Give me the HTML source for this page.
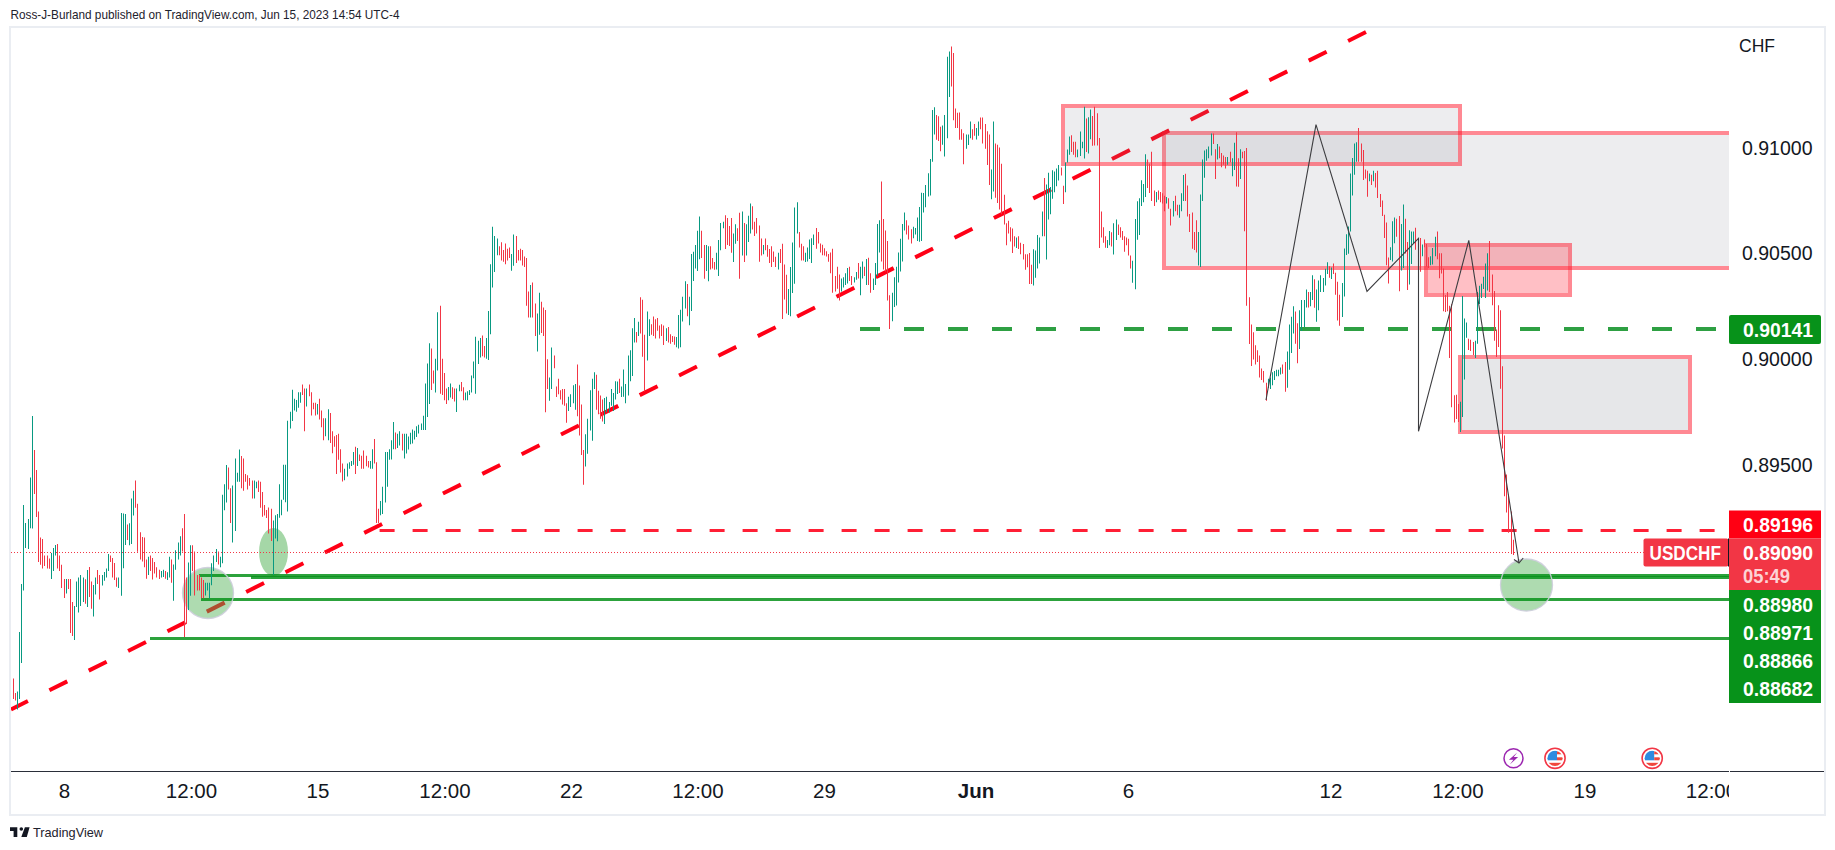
<!DOCTYPE html>
<html><head><meta charset="utf-8"><style>
html,body{margin:0;padding:0;background:#fff;}
body{width:1835px;height:850px;overflow:hidden;position:relative;font-family:"Liberation Sans", sans-serif;}
svg{position:absolute;left:0;top:0;}
</style></head><body>
<svg width="1835" height="850" viewBox="0 0 1835 850" font-family='"Liberation Sans", sans-serif'>
<text x="10.5" y="19" font-size="13" fill="#1E222D" textLength="389" lengthAdjust="spacingAndGlyphs">Ross-J-Burland published on TradingView.com, Jun 15, 2023 14:54 UTC-4</text>
<rect x="10" y="27" width="1815" height="788" fill="none" stroke="#EAEDF2" stroke-width="2"/>
<defs><clipPath id="cc"><rect x="11" y="28" width="1718" height="743"/></clipPath><clipPath id="tc"><rect x="11" y="772" width="1718" height="42"/></clipPath></defs>
<g clip-path="url(#cc)">
<path d="M11 709.5L1380 25" stroke="#FF0016" stroke-width="4" stroke-dasharray="20 24" stroke-dashoffset="1.1" fill="none"/>
<rect x="1166" y="135" width="620" height="131" fill="rgba(130,133,145,0.145)"/><rect x="1164" y="133" width="624" height="135" fill="none" stroke="rgba(255,20,40,0.5)" stroke-width="4"/><rect x="1065" y="108" width="393" height="54" fill="rgba(130,133,145,0.145)"/><rect x="1063" y="106" width="397" height="58" fill="none" stroke="rgba(255,20,40,0.5)" stroke-width="4"/><rect x="1428" y="247" width="140" height="46" fill="rgba(255,20,40,0.27)"/><rect x="1426" y="245" width="144" height="50" fill="none" stroke="rgba(255,20,40,0.5)" stroke-width="4"/><rect x="1462" y="359" width="226" height="71" fill="rgba(130,133,145,0.2)"/><rect x="1460" y="357" width="230" height="75" fill="none" stroke="rgba(255,20,40,0.5)" stroke-width="4"/>
<circle cx="208" cy="593" r="25.5" fill="rgba(76,175,80,0.45)"/>
<ellipse cx="273.5" cy="552" rx="14.5" ry="24" fill="rgba(76,175,80,0.5)"/>
<circle cx="1526.5" cy="585" r="26" fill="rgba(76,175,80,0.45)"/>
<path d="M860 329H1729" stroke="#2EA043" stroke-width="4" stroke-dasharray="20 24" fill="none"/>
<path d="M379.6 530.5H1729" stroke="#FF1F35" stroke-width="3" stroke-dasharray="15 18" fill="none"/>
<path d="M11 552.5H1729" stroke="#F23645" stroke-width="1" stroke-dasharray="1 2" fill="none"/>
<path d="M199 575.5H1729" stroke="rgba(7,146,26,0.85)" stroke-width="3" fill="none"/>
<path d="M251 577.5H1729" stroke="rgba(7,146,26,0.85)" stroke-width="3" fill="none"/>
<path d="M201 599.5H1729" stroke="rgba(7,146,26,0.85)" stroke-width="3" fill="none"/>
<path d="M150 638.5H1729" stroke="rgba(7,146,26,0.85)" stroke-width="3" fill="none"/>
<circle cx="208" cy="593" r="25.5" fill="none" stroke="rgba(205,205,220,0.9)" stroke-width="1.3"/>
<circle cx="1526.5" cy="585" r="26" fill="none" stroke="rgba(205,205,220,0.9)" stroke-width="1.3"/>
<path fill="#089981" d="M17 691.5h1v18.1h-1zM19 632h1v67h-1zM21 584h1v79h-1zM23 505h1v85.6h-1zM25 523h1v25h-1zM28 519h1v30h-1zM30 477.4h1v50.8h-1zM32 416h1v112.5h-1zM51 553h1v26h-1zM53 548h1v23h-1zM55 545h1v10.6h-1zM66 579.1h1v14.3h-1zM74 606h1v34h-1zM76 581.5h1v25.5h-1zM78 577.6h1v35.0h-1zM80 575h1v31h-1zM83 577.6h1v24.4h-1zM87 570h1v37h-1zM93 585h1v31.5h-1zM95 577.6h1v16.9h-1zM102 575h1v10.4h-1zM104 572.1h1v8.6h-1zM106 568.6h1v9.0h-1zM108 554h1v17h-1zM118 577.6h1v10.4h-1zM121 513h1v82.8h-1zM123 513.6h1v54.6h-1zM125 514h1v31h-1zM129 523.2h1v22.0h-1zM131 498.6h1v45.3h-1zM133 490.8h1v24.6h-1zM148 556.8h1v18.1h-1zM161 571.0h1v6.5h-1zM163 569.8h1v7.2h-1zM167 572.3h1v7.8h-1zM169 556.8h1v20.7h-1zM173 564.6h1v36.2h-1zM175 550.3h1v19.4h-1zM178 542.6h1v16.8h-1zM180 536.2h1v19.2h-1zM188 562.5h1v47.4h-1zM190 545.2h1v50.5h-1zM205 582.7h1v12.9h-1zM207 582.7h1v7.8h-1zM209 582.7h1v15.5h-1zM211 563.3h1v22.0h-1zM213 555.5h1v15.5h-1zM216 549.0h1v12.9h-1zM220 556.8h1v10.4h-1zM222 494.7h1v68.6h-1zM224 484.3h1v25.9h-1zM226 464.9h1v37.5h-1zM232 485.6h1v56.9h-1zM235 458.5h1v72.5h-1zM237 472.7h1v9.1h-1zM239 449.4h1v32.3h-1zM254 480.5h1v18.1h-1zM256 481.8h1v6.5h-1zM273 520.5h1v54.3h-1zM275 515.3h1v23.3h-1zM277 514.0h1v27.2h-1zM279 484.2h1v33.6h-1zM281 499.8h1v15.5h-1zM283 464.8h1v34.9h-1zM285 464.8h1v37.5h-1zM287 420.8h1v90.6h-1zM290 411.8h1v16.8h-1zM292 389.8h1v31.1h-1zM294 398.8h1v11.6h-1zM296 400.1h1v11.6h-1zM298 392.3h1v15.5h-1zM300 392.3h1v10.4h-1zM306 388.5h1v18.1h-1zM317 404.0h1v10.4h-1zM325 418.2h1v18.1h-1zM328 409.2h1v31.1h-1zM344 468.7h1v11.6h-1zM347 463.5h1v12.9h-1zM349 462.2h1v6.5h-1zM351 460.9h1v5.2h-1zM353 451.9h1v12.9h-1zM357 448.0h1v18.1h-1zM370 460.9h1v7.8h-1zM372 449.3h1v19.4h-1zM380 501.0h1v14.2h-1zM382 486.8h1v27.2h-1zM385 451.9h1v50.5h-1zM387 451.9h1v34.9h-1zM389 449.3h1v10.4h-1zM391 440.2h1v19.4h-1zM393 422.1h1v27.2h-1zM397 433.8h1v14.2h-1zM399 431.2h1v14.2h-1zM404 433.8h1v24.6h-1zM406 433.7h1v19.8h-1zM408 436.4h1v13.2h-1zM410 432.7h1v11.5h-1zM412 429.5h1v14.0h-1zM414 430.8h1v8.7h-1zM416 426.3h1v10.6h-1zM418 424.8h1v8.6h-1zM421 423.5h1v6.5h-1zM423 415.7h1v14.2h-1zM425 383.4h1v46.6h-1zM427 363.4h1v53.6h-1zM429 343.3h1v60.8h-1zM435 358.8h1v33.6h-1zM437 312.2h1v58.2h-1zM448 387.1h1v13.1h-1zM450 383.4h1v14.2h-1zM456 388.6h1v23.3h-1zM459 384.7h1v6.5h-1zM465 392.5h1v7.8h-1zM467 391.2h1v9.1h-1zM469 389.9h1v5.2h-1zM471 375.6h1v16.8h-1zM473 361.4h1v16.8h-1zM475 336.8h1v56.9h-1zM478 340.7h1v23.3h-1zM480 338.1h1v19.4h-1zM486 338.1h1v20.7h-1zM488 310.9h1v49.2h-1zM490 264.3h1v69.9h-1zM492 226.8h1v60.8h-1zM494 235.9h1v36.2h-1zM497 238.5h1v16.8h-1zM511 254.0h1v16.8h-1zM513 234.6h1v31.1h-1zM530 285.1h1v32.3h-1zM537 313.5h1v38.0h-1zM539 292.8h1v41.9h-1zM549 377.4h1v23.3h-1zM551 347.6h1v41.4h-1zM568 396.8h1v14.2h-1zM570 394.2h1v12.9h-1zM573 385.2h1v18.1h-1zM575 383.9h1v25.9h-1zM585 434.3h1v32.3h-1zM587 418.8h1v34.9h-1zM590 390.3h1v40.1h-1zM592 378.7h1v62.1h-1zM594 372.2h1v16.8h-1zM604 398.1h1v25.9h-1zM606 396.8h1v15.5h-1zM609 402.0h1v10.4h-1zM611 389.0h1v16.8h-1zM613 392.9h1v18.1h-1zM615 381.3h1v18.1h-1zM617 381.4h1v12.6h-1zM621 386.5h1v10.4h-1zM623 369.6h1v27.2h-1zM625 383.9h1v19.4h-1zM628 355.4h1v40.1h-1zM630 350.2h1v31.1h-1zM632 328.2h1v47.9h-1zM634 317.9h1v24.6h-1zM638 321.8h1v14.2h-1zM647 311.4h1v49.2h-1zM649 319.2h1v16.8h-1zM666 328.2h1v12.9h-1zM676 336.9h1v10.4h-1zM678 314.9h1v33.6h-1zM680 309.8h1v37.5h-1zM682 296.8h1v24.6h-1zM685 281.3h1v27.2h-1zM689 296.8h1v28.5h-1zM691 254.1h1v56.9h-1zM693 251.8h1v29.2h-1zM695 245.1h1v23.3h-1zM697 230.8h1v40.1h-1zM699 216.6h1v42.7h-1zM706 245.1h1v25.9h-1zM708 246.3h1v34.9h-1zM716 252.8h1v16.8h-1zM718 239.9h1v36.2h-1zM720 223.1h1v27.2h-1zM723 221.8h1v6.5h-1zM733 233.4h1v28.5h-1zM735 224.3h1v19.4h-1zM742 211.4h1v44.0h-1zM746 224.3h1v31.1h-1zM748 215.7h1v26.2h-1zM750 203.6h1v29.8h-1zM763 245.1h1v9.1h-1zM778 252.8h1v16.8h-1zM788 289.0h1v25.9h-1zM790 267.0h1v49.2h-1zM792 242.5h1v50.5h-1zM794 207.5h1v76.3h-1zM797 202.3h1v31.1h-1zM805 252.8h1v9.1h-1zM807 247.6h1v14.0h-1zM809 239.6h1v19.4h-1zM811 238.3h1v24.6h-1zM813 234.5h1v10.4h-1zM841 278.5h1v12.9h-1zM843 277.2h1v10.4h-1zM845 273.3h1v11.6h-1zM847 268.1h1v15.5h-1zM854 277.2h1v5.2h-1zM856 272.0h1v7.8h-1zM860 266.8h1v28.5h-1zM862 261.6h1v16.8h-1zM866 259.0h1v25.9h-1zM873 278.5h1v11.6h-1zM875 262.9h1v22.0h-1zM877 224.1h1v51.8h-1zM879 220.2h1v32.3h-1zM892 292.7h1v28.5h-1zM894 277.2h1v29.8h-1zM896 266.8h1v38.8h-1zM898 252.6h1v29.8h-1zM900 238.7h1v32.8h-1zM902 224.1h1v37.5h-1zM904 212.5h1v18.1h-1zM913 226.7h1v11.6h-1zM915 228.0h1v6.5h-1zM917 217.6h1v23.3h-1zM919 206.9h1v34.9h-1zM921 192.7h1v48.2h-1zM923 193.1h1v19.4h-1zM925 184.9h1v22.4h-1zM928 173.3h1v23.3h-1zM930 159.0h1v36.6h-1zM932 109.9h1v51.8h-1zM934 107.3h1v27.2h-1zM942 125.4h1v19.4h-1zM944 115.1h1v41.4h-1zM947 56.8h1v81.5h-1zM949 51.6h1v45.3h-1zM966 134.5h1v14.2h-1zM968 134.5h1v10.4h-1zM970 121.5h1v16.8h-1zM976 128.0h1v11.6h-1zM978 121.5h1v14.2h-1zM991 169.4h1v29.8h-1zM993 121.5h1v69.9h-1zM1016 237.5h1v10.4h-1zM1033 249.2h1v36.2h-1zM1035 250.5h1v27.2h-1zM1037 234.9h1v33.6h-1zM1039 237.5h1v25.9h-1zM1042 211.6h1v24.6h-1zM1046 184.5h1v75.1h-1zM1048 172.8h1v46.6h-1zM1050 187.0h1v27.2h-1zM1052 170.2h1v28.5h-1zM1054 171.5h1v20.7h-1zM1056 168.4h1v17.9h-1zM1058 165.1h1v15.5h-1zM1065 162.5h1v29.8h-1zM1067 149.5h1v12.9h-1zM1069 136.6h1v18.1h-1zM1077 149.5h1v7.8h-1zM1080 131.4h1v24.6h-1zM1082 141.8h1v6.5h-1zM1084 106.8h1v51.8h-1zM1088 117.2h1v36.2h-1zM1090 109.4h1v29.8h-1zM1107 240.1h1v7.8h-1zM1109 231.0h1v14.2h-1zM1113 223.3h1v31.1h-1zM1116 219.4h1v20.7h-1zM1132 260.8h1v22.0h-1zM1135 219.0h1v70.2h-1zM1137 201.3h1v38.5h-1zM1139 198.3h1v36.6h-1zM1141 180.2h1v25.9h-1zM1143 184.1h1v18.1h-1zM1145 154.3h1v42.7h-1zM1156 191.9h1v10.4h-1zM1166 197.0h1v6.5h-1zM1173 200.9h1v15.5h-1zM1179 204.8h1v12.9h-1zM1181 193.2h1v18.1h-1zM1183 175.1h1v25.9h-1zM1198 232.0h1v33.6h-1zM1200 194.5h1v72.5h-1zM1202 159.5h1v41.4h-1zM1204 150.5h1v27.2h-1zM1206 149.2h1v11.6h-1zM1208 146.6h1v11.6h-1zM1211 133.6h1v22.0h-1zM1217 144.0h1v15.5h-1zM1227 156.9h1v7.8h-1zM1232 158.2h1v18.1h-1zM1234 142.7h1v27.2h-1zM1240 149.2h1v29.8h-1zM1268 378.8h1v9.1h-1zM1270 377.5h1v11.6h-1zM1272 372.3h1v12.9h-1zM1274 371.0h1v9.1h-1zM1276 369.8h1v6.5h-1zM1278 369.8h1v6.5h-1zM1280 367.4h1v7.0h-1zM1287 351.6h1v36.2h-1zM1289 324.5h1v45.3h-1zM1291 316.7h1v36.2h-1zM1293 306.3h1v27.2h-1zM1299 310.2h1v38.8h-1zM1301 299.9h1v31.1h-1zM1304 299.9h1v27.2h-1zM1306 289.5h1v18.1h-1zM1310 292.1h1v14.2h-1zM1312 275.3h1v24.6h-1zM1316 289.5h1v32.3h-1zM1318 280.5h1v29.8h-1zM1320 275.3h1v16.8h-1zM1323 277.9h1v14.2h-1zM1325 268.8h1v16.8h-1zM1327 262.3h1v11.6h-1zM1331 267.5h1v11.6h-1zM1342 283.1h1v34.0h-1zM1344 248.5h1v47.9h-1zM1346 234.2h1v20.7h-1zM1348 226.5h1v27.2h-1zM1350 173.4h1v58.2h-1zM1352 157.9h1v37.5h-1zM1354 143.6h1v31.1h-1zM1356 142.3h1v19.4h-1zM1369 173.4h1v7.8h-1zM1373 170.8h1v10.4h-1zM1390 247.2h1v12.9h-1zM1392 221.3h1v40.1h-1zM1394 217.4h1v25.9h-1zM1401 223.9h1v46.6h-1zM1403 204.5h1v63.4h-1zM1409 230.3h1v54.3h-1zM1411 231.5h1v32.5h-1zM1413 231.6h1v11.6h-1zM1422 244.6h1v11.6h-1zM1430 256.2h1v9.1h-1zM1432 248.1h1v16.3h-1zM1435 236.8h1v19.4h-1zM1460 401.7h1v30.4h-1zM1462 296.0h1v120.9h-1zM1464 318.4h1v61.1h-1zM1466 322.5h1v15.3h-1zM1475 340.8h1v17.3h-1zM1477 291.9h1v51.9h-1zM1479 285.8h1v18.3h-1zM1481 283.8h1v14.3h-1zM1483 276.7h1v12.2h-1zM1485 263.4h1v34.6h-1zM1487 253.3h1v37.3h-1z"/><path fill="#F23645" d="M13 678.6h1v20.4h-1zM15 693h1v7.6h-1zM34 450h1v44h-1zM36 470h1v47h-1zM38 511.6h1v50.4h-1zM40 537.5h1v27.2h-1zM42 539h1v29.6h-1zM44 555.6h1v10.4h-1zM47 555.6h1v13.0h-1zM49 558.4h1v10.3h-1zM57 544h1v24.6h-1zM59 555.6h1v15.4h-1zM61 564.7h1v23.3h-1zM64 579h1v19h-1zM68 579h1v10h-1zM70 579h1v54h-1zM72 602h1v34h-1zM85 579.2h1v24.6h-1zM89 567h1v30h-1zM91 581.5h1v27.2h-1zM97 570h1v14h-1zM99 575h1v24.6h-1zM110 555.6h1v6.4h-1zM112 558h1v19.6h-1zM114 563h1v17h-1zM116 577.6h1v9.1h-1zM127 524.6h1v15.4h-1zM135 480.5h1v27.2h-1zM137 503.8h1v47.9h-1zM140 532.2h1v27.2h-1zM142 537.0h1v24.5h-1zM144 537.4h1v29.8h-1zM146 559.4h1v19.4h-1zM150 555.5h1v15.5h-1zM152 558.1h1v21.5h-1zM154 562.0h1v11.6h-1zM156 567.2h1v10.4h-1zM159 569.8h1v9.1h-1zM165 571.0h1v7.8h-1zM171 559.4h1v23.3h-1zM182 528.3h1v23.3h-1zM184 514.1h1v122.9h-1zM186 577.5h1v46.6h-1zM192 545.2h1v25.9h-1zM194 551.6h1v44.0h-1zM197 574.9h1v15.5h-1zM199 574.9h1v15.5h-1zM201 577.5h1v20.7h-1zM203 580.1h1v18.1h-1zM218 551.6h1v12.9h-1zM228 467.5h1v22.0h-1zM230 488.2h1v34.9h-1zM241 455.9h1v32.3h-1zM243 458.5h1v32.3h-1zM245 474.0h1v7.8h-1zM247 475.3h1v14.2h-1zM249 477.9h1v7.8h-1zM252 480.5h1v18.1h-1zM258 480.5h1v11.6h-1zM260 481.8h1v25.9h-1zM262 492.1h1v24.6h-1zM264 505.1h1v10.4h-1zM266 510.1h1v7.8h-1zM268 507.5h1v25.9h-1zM271 508.8h1v32.3h-1zM302 384.6h1v10.4h-1zM304 388.5h1v42.7h-1zM309 384.6h1v11.6h-1zM311 392.3h1v23.3h-1zM313 402.7h1v6.5h-1zM315 402.7h1v12.9h-1zM319 398.8h1v20.7h-1zM321 410.5h1v16.8h-1zM323 418.2h1v22.0h-1zM330 413.1h1v29.8h-1zM332 431.2h1v22.0h-1zM334 436.3h1v10.4h-1zM336 435.1h1v38.8h-1zM338 433.8h1v25.9h-1zM340 449.3h1v23.3h-1zM342 463.5h1v18.1h-1zM355 446.7h1v27.2h-1zM359 454.5h1v6.5h-1zM361 455.8h1v12.9h-1zM363 450.6h1v18.1h-1zM366 455.8h1v10.4h-1zM368 460.9h1v6.5h-1zM374 438.9h1v24.6h-1zM376 462.2h1v60.8h-1zM378 508.8h1v14.2h-1zM395 432.5h1v16.8h-1zM402 433.8h1v16.8h-1zM431 348.5h1v41.4h-1zM433 370.5h1v12.9h-1zM440 305.8h1v88.0h-1zM442 358.8h1v36.2h-1zM444 373.0h1v27.2h-1zM446 388.6h1v15.5h-1zM452 387.3h1v11.6h-1zM454 388.6h1v12.9h-1zM461 382.1h1v9.1h-1zM463 387.3h1v12.9h-1zM482 335.5h1v20.7h-1zM484 345.9h1v11.6h-1zM499 246.2h1v9.1h-1zM501 242.3h1v18.1h-1zM503 250.1h1v11.6h-1zM505 243.6h1v20.7h-1zM507 248.8h1v11.6h-1zM509 247.5h1v10.4h-1zM516 235.9h1v27.2h-1zM518 250.1h1v10.4h-1zM520 248.8h1v11.6h-1zM522 250.1h1v15.5h-1zM524 256.6h1v10.4h-1zM526 257.9h1v47.9h-1zM528 291.5h1v25.9h-1zM532 282.5h1v34.9h-1zM535 303.6h1v32.3h-1zM541 301.8h1v31.2h-1zM543 307.5h1v28.5h-1zM545 310.1h1v102.2h-1zM547 359.3h1v29.8h-1zM554 355.4h1v12.9h-1zM556 386.5h1v10.4h-1zM558 378.7h1v15.5h-1zM560 390.3h1v9.1h-1zM562 389.0h1v15.5h-1zM564 389.0h1v16.8h-1zM566 403.3h1v19.4h-1zM577 364.5h1v51.8h-1zM579 385.4h1v50.2h-1zM581 404.6h1v50.5h-1zM583 449.9h1v34.9h-1zM596 374.8h1v34.9h-1zM598 390.7h1v23.5h-1zM600 395.5h1v23.3h-1zM602 399.4h1v22.0h-1zM619 378.7h1v14.2h-1zM636 332.1h1v10.4h-1zM640 297.2h1v36.2h-1zM642 299.8h1v56.9h-1zM644 334.7h1v56.9h-1zM651 324.3h1v10.4h-1zM653 316.6h1v19.4h-1zM655 319.2h1v19.4h-1zM657 317.9h1v12.9h-1zM659 325.6h1v12.9h-1zM661 324.3h1v11.6h-1zM663 325.6h1v19.4h-1zM668 326.9h1v15.5h-1zM670 334.3h1v9.4h-1zM672 336.0h1v6.1h-1zM674 336.5h1v8.2h-1zM687 283.9h1v32.3h-1zM701 230.8h1v27.2h-1zM704 245.1h1v33.6h-1zM710 246.3h1v23.3h-1zM712 258.0h1v10.4h-1zM714 261.9h1v7.8h-1zM725 215.3h1v33.6h-1zM727 217.9h1v27.2h-1zM729 226.0h1v19.9h-1zM731 217.9h1v34.9h-1zM737 228.2h1v12.9h-1zM739 212.7h1v66.0h-1zM744 223.1h1v38.8h-1zM752 206.2h1v23.3h-1zM754 221.8h1v14.2h-1zM756 217.9h1v15.5h-1zM759 225.6h1v36.2h-1zM761 238.6h1v16.8h-1zM765 238.6h1v11.6h-1zM767 245.1h1v11.6h-1zM769 248.9h1v14.2h-1zM771 246.3h1v20.7h-1zM773 251.5h1v10.4h-1zM775 256.7h1v10.4h-1zM780 248.9h1v14.2h-1zM782 243.8h1v75.1h-1zM784 264.5h1v34.9h-1zM786 274.8h1v38.8h-1zM799 232.1h1v15.5h-1zM801 243.8h1v16.8h-1zM803 246.3h1v14.2h-1zM816 228.0h1v20.7h-1zM818 231.9h1v11.6h-1zM820 243.5h1v9.1h-1zM822 244.8h1v10.4h-1zM824 248.2h1v7.4h-1zM826 251.3h1v5.2h-1zM828 253.9h1v7.8h-1zM830 252.6h1v20.7h-1zM832 248.7h1v44.0h-1zM835 275.9h1v15.5h-1zM837 266.8h1v22.0h-1zM839 274.6h1v25.9h-1zM849 266.8h1v14.2h-1zM851 275.9h1v9.1h-1zM858 262.9h1v15.5h-1zM864 266.8h1v9.1h-1zM868 257.8h1v27.2h-1zM870 273.3h1v19.4h-1zM881 181.4h1v80.2h-1zM883 218.9h1v50.5h-1zM885 230.5h1v41.1h-1zM887 240.9h1v59.5h-1zM889 295.3h1v33.6h-1zM906 220.2h1v14.2h-1zM908 225.4h1v14.2h-1zM911 229.3h1v14.2h-1zM936 115.1h1v24.6h-1zM938 116.3h1v24.6h-1zM940 126.7h1v24.6h-1zM951 46.5h1v40.1h-1zM953 52.9h1v67.3h-1zM955 108.6h1v19.4h-1zM957 112.7h1v15.2h-1zM959 112.5h1v27.2h-1zM961 129.3h1v10.4h-1zM963 133.2h1v31.1h-1zM972 129.3h1v10.4h-1zM974 124.1h1v11.6h-1zM980 117.6h1v11.6h-1zM982 117.6h1v25.9h-1zM985 124.1h1v24.6h-1zM987 131.2h1v33.7h-1zM989 134.5h1v50.5h-1zM995 143.5h1v54.3h-1zM997 144.8h1v58.2h-1zM999 147.4h1v62.1h-1zM1001 163.8h1v50.5h-1zM1004 194.8h1v29.8h-1zM1006 223.3h1v22.0h-1zM1008 220.7h1v12.9h-1zM1010 227.2h1v14.2h-1zM1012 228.5h1v24.6h-1zM1014 236.2h1v10.4h-1zM1018 236.2h1v12.9h-1zM1020 242.7h1v11.6h-1zM1023 244.0h1v15.5h-1zM1025 254.3h1v15.5h-1zM1027 254.3h1v12.9h-1zM1029 253.0h1v31.1h-1zM1031 264.7h1v19.4h-1zM1044 178.0h1v58.2h-1zM1061 167.6h1v7.8h-1zM1063 185.8h1v18.1h-1zM1071 135.3h1v16.8h-1zM1073 141.8h1v12.9h-1zM1075 141.8h1v15.5h-1zM1086 118.5h1v33.6h-1zM1092 115.9h1v29.8h-1zM1094 106.8h1v38.8h-1zM1097 113.3h1v32.3h-1zM1099 137.9h1v110.0h-1zM1101 211.6h1v25.9h-1zM1103 227.2h1v15.5h-1zM1105 236.2h1v11.6h-1zM1111 232.3h1v14.2h-1zM1118 224.6h1v10.4h-1zM1120 227.2h1v10.4h-1zM1122 231.0h1v9.1h-1zM1124 236.2h1v15.5h-1zM1126 237.5h1v7.8h-1zM1128 238.8h1v16.8h-1zM1130 255.6h1v12.9h-1zM1147 159.5h1v28.5h-1zM1149 163.6h1v29.5h-1zM1151 151.8h1v49.2h-1zM1154 190.6h1v15.5h-1zM1158 190.6h1v9.1h-1zM1160 191.9h1v10.4h-1zM1162 193.2h1v10.4h-1zM1164 195.8h1v15.5h-1zM1168 198.3h1v10.4h-1zM1170 208.7h1v16.8h-1zM1175 195.8h1v15.5h-1zM1177 204.8h1v10.4h-1zM1185 173.8h1v27.2h-1zM1187 185.4h1v31.1h-1zM1189 213.9h1v18.1h-1zM1192 212.6h1v36.2h-1zM1194 232.0h1v18.1h-1zM1196 220.3h1v32.3h-1zM1213 133.6h1v10.4h-1zM1215 149.2h1v29.8h-1zM1219 146.6h1v11.6h-1zM1221 153.1h1v14.2h-1zM1223 155.6h1v9.1h-1zM1225 156.9h1v11.6h-1zM1230 151.8h1v10.4h-1zM1236 132.3h1v54.3h-1zM1238 158.2h1v28.5h-1zM1242 151.8h1v6.5h-1zM1244 151.0h1v80.3h-1zM1246 147.9h1v157.9h-1zM1249 297.3h1v46.6h-1zM1251 324.5h1v41.4h-1zM1253 332.2h1v27.2h-1zM1255 345.2h1v19.4h-1zM1257 350.3h1v11.6h-1zM1259 355.5h1v22.0h-1zM1261 368.5h1v11.6h-1zM1263 371.0h1v11.6h-1zM1266 382.7h1v18.1h-1zM1282 364.6h1v9.1h-1zM1285 362.0h1v29.8h-1zM1295 311.5h1v32.3h-1zM1297 323.2h1v40.1h-1zM1308 292.1h1v15.5h-1zM1314 279.2h1v28.5h-1zM1329 266.2h1v11.6h-1zM1333 263.6h1v10.4h-1zM1335 272.7h1v22.0h-1zM1337 281.8h1v38.8h-1zM1339 294.7h1v31.1h-1zM1358 128.1h1v33.6h-1zM1361 143.6h1v18.1h-1zM1363 150.1h1v29.8h-1zM1365 169.5h1v9.1h-1zM1367 170.8h1v25.9h-1zM1371 174.7h1v10.4h-1zM1375 172.9h1v14.7h-1zM1377 170.8h1v27.2h-1zM1380 194.1h1v12.9h-1zM1382 200.6h1v15.5h-1zM1384 214.8h1v23.3h-1zM1386 222.6h1v42.7h-1zM1388 257.5h1v25.9h-1zM1396 218.7h1v18.1h-1zM1399 216.1h1v75.1h-1zM1405 218.7h1v34.9h-1zM1407 242.0h1v47.9h-1zM1415 227.8h1v22.0h-1zM1418 242.0h1v11.6h-1zM1420 238.1h1v33.6h-1zM1424 239.4h1v7.8h-1zM1426 244.1h1v22.4h-1zM1428 257.3h1v10.6h-1zM1437 231.6h1v27.7h-1zM1439 253.2h1v25.0h-1zM1441 253.2h1v20.4h-1zM1443 268.5h1v42.8h-1zM1445 295.0h1v16.9h-1zM1447 291.9h1v19.4h-1zM1449 305.7h1v52.4h-1zM1451 304.2h1v103.0h-1zM1454 395.2h1v27.2h-1zM1456 394.8h1v24.3h-1zM1458 404.0h1v17.9h-1zM1468 338.8h1v11.2h-1zM1470 339.8h1v11.2h-1zM1473 341.9h1v13.2h-1zM1489 241.0h1v50.9h-1zM1492 274.6h1v30.6h-1zM1494 290.9h1v49.9h-1zM1496 329.6h1v27.5h-1zM1498 305.2h1v41.8h-1zM1500 310.3h1v78.4h-1zM1502 366.3h1v82.2h-1zM1504 435.4h1v60.9h-1zM1506 474.6h1v38.0h-1zM1508 494.6h1v38.2h-1zM1511 511.5h1v42.4h-1zM1513 539.8h1v15.2h-1z"/>
<path d="M1266 400L1316 124.6L1367 291.5L1418.5 238.4L1418.5 431.3L1468.8 240.3L1519 563" stroke="#3C3C3F" stroke-width="1.1" fill="none"/>
<path d="M1514 559.5L1519 563L1523.2 558" stroke="#3C3C3F" stroke-width="1.1" fill="none"/>
<circle cx="1513.5" cy="758.3" r="9.5" fill="#fff" stroke="#9C27B0" stroke-width="1.5"/>
<path d="M1517.2 752.4L1508.9 759.8H1513.4L1509.8 764.6L1518.1 757.1H1513.7Z" fill="#9C27B0"/>
<g>
<circle cx="1555" cy="758.3" r="10.1" fill="#fff" stroke="#F23645" stroke-width="1.6"/>
<clipPath id="fc1555"><circle cx="1555" cy="758.3" r="7.6"/></clipPath>
<g clip-path="url(#fc1555)">
<rect x="1547" y="750.3" width="10" height="10" fill="#2E8BE0"/>
<rect x="1557" y="751.3" width="7" height="3" fill="#F0473C"/>
<rect x="1557" y="757.3" width="7" height="3" fill="#F0473C"/>
<rect x="1547" y="762.8" width="16" height="4" fill="#F0473C"/>
</g></g>
<g>
<circle cx="1652.2" cy="758.3" r="10.1" fill="#fff" stroke="#F23645" stroke-width="1.6"/>
<clipPath id="fc1652"><circle cx="1652.2" cy="758.3" r="7.6"/></clipPath>
<g clip-path="url(#fc1652)">
<rect x="1644.2" y="750.3" width="10" height="10" fill="#2E8BE0"/>
<rect x="1654.2" y="751.3" width="7" height="3" fill="#F0473C"/>
<rect x="1654.2" y="757.3" width="7" height="3" fill="#F0473C"/>
<rect x="1644.2" y="762.8" width="16" height="4" fill="#F0473C"/>
</g></g>
</g>
<rect x="11" y="771" width="1718" height="1" fill="#2A2E39"/>
<rect x="1730" y="771" width="94" height="1" fill="#2A2E39"/>
<text x="1757" y="51.6" font-size="18.5" text-anchor="middle" font-weight="normal" fill="#131722" textLength="36" lengthAdjust="spacingAndGlyphs">CHF</text>
<text x="1812.5" y="155.2" font-size="20" text-anchor="end" font-weight="normal" fill="#131722" textLength="70.5" lengthAdjust="spacingAndGlyphs">0.91000</text><text x="1812.5" y="260.2" font-size="20" text-anchor="end" font-weight="normal" fill="#131722" textLength="70.5" lengthAdjust="spacingAndGlyphs">0.90500</text><text x="1812.5" y="366.2" font-size="20" text-anchor="end" font-weight="normal" fill="#131722" textLength="70.5" lengthAdjust="spacingAndGlyphs">0.90000</text><text x="1812.5" y="471.8" font-size="20" text-anchor="end" font-weight="normal" fill="#131722" textLength="70.5" lengthAdjust="spacingAndGlyphs">0.89500</text>
<rect x="1729" y="315" width="92" height="29" rx="2" fill="#07921A"/>
<rect x="1729" y="510.5" width="92" height="28" fill="#FF0013"/>
<rect x="1729" y="538.5" width="92" height="51.5" fill="#F23645"/>
<rect x="1643.5" y="538.5" width="85" height="28" rx="2" fill="#F23645"/>
<rect x="1728" y="538.5" width="1" height="28" fill="#131722"/>
<rect x="1729" y="590" width="92" height="113" fill="#07921A"/>
<text x="1813" y="336.7" font-size="20" text-anchor="end" font-weight="bold" fill="#fff" textLength="70" lengthAdjust="spacingAndGlyphs">0.90141</text><text x="1813" y="531.7" font-size="20" text-anchor="end" font-weight="bold" fill="#fff" textLength="70" lengthAdjust="spacingAndGlyphs">0.89196</text><text x="1813" y="559.7" font-size="20" text-anchor="end" font-weight="bold" fill="#fff" textLength="70" lengthAdjust="spacingAndGlyphs">0.89090</text><text x="1813" y="611.7" font-size="20" text-anchor="end" font-weight="bold" fill="#fff" textLength="70" lengthAdjust="spacingAndGlyphs">0.88980</text><text x="1813" y="639.7" font-size="20" text-anchor="end" font-weight="bold" fill="#fff" textLength="70" lengthAdjust="spacingAndGlyphs">0.88971</text><text x="1813" y="667.7" font-size="20" text-anchor="end" font-weight="bold" fill="#fff" textLength="70" lengthAdjust="spacingAndGlyphs">0.88866</text><text x="1813" y="696.2" font-size="20" text-anchor="end" font-weight="bold" fill="#fff" textLength="70" lengthAdjust="spacingAndGlyphs">0.88682</text>
<text x="1743" y="583" font-size="20" text-anchor="start" font-weight="bold" fill="rgba(255,255,255,0.78)" textLength="47" lengthAdjust="spacingAndGlyphs">05:49</text>
<text x="1649.5" y="559.5" font-size="20" text-anchor="start" font-weight="bold" fill="#fff" textLength="71.5" lengthAdjust="spacingAndGlyphs">USDCHF</text>
<g clip-path="url(#tc)"><text x="64.5" y="798" font-size="20.5" text-anchor="middle" font-weight="normal" fill="#131722">8</text><text x="191.5" y="798" font-size="20.5" text-anchor="middle" font-weight="normal" fill="#131722">12:00</text><text x="318" y="798" font-size="20.5" text-anchor="middle" font-weight="normal" fill="#131722">15</text><text x="445" y="798" font-size="20.5" text-anchor="middle" font-weight="normal" fill="#131722">12:00</text><text x="571.5" y="798" font-size="20.5" text-anchor="middle" font-weight="normal" fill="#131722">22</text><text x="698" y="798" font-size="20.5" text-anchor="middle" font-weight="normal" fill="#131722">12:00</text><text x="824.5" y="798" font-size="20.5" text-anchor="middle" font-weight="normal" fill="#131722">29</text><text x="976" y="798" font-size="20.5" text-anchor="middle" font-weight="bold" fill="#131722">Jun</text><text x="1128.5" y="798" font-size="20.5" text-anchor="middle" font-weight="normal" fill="#131722">6</text><text x="1331" y="798" font-size="20.5" text-anchor="middle" font-weight="normal" fill="#131722">12</text><text x="1458" y="798" font-size="20.5" text-anchor="middle" font-weight="normal" fill="#131722">12:00</text><text x="1585" y="798" font-size="20.5" text-anchor="middle" font-weight="normal" fill="#131722">19</text><text x="1711.5" y="798" font-size="20.5" text-anchor="middle" font-weight="normal" fill="#131722">12:00</text></g>
<g fill="#131722">
<path d="M10 827.2h7.3v9.7h-3.7v-6h-3.6z"/>
<circle cx="21.3" cy="829" r="1.8"/>
<path d="M24.9 827.2h4.7l-2.8 9.7h-5.5z"/>
</g>
<text x="33" y="837" font-size="13" fill="#1E222D" textLength="70" lengthAdjust="spacingAndGlyphs">TradingView</text>
</svg>
</body></html>
